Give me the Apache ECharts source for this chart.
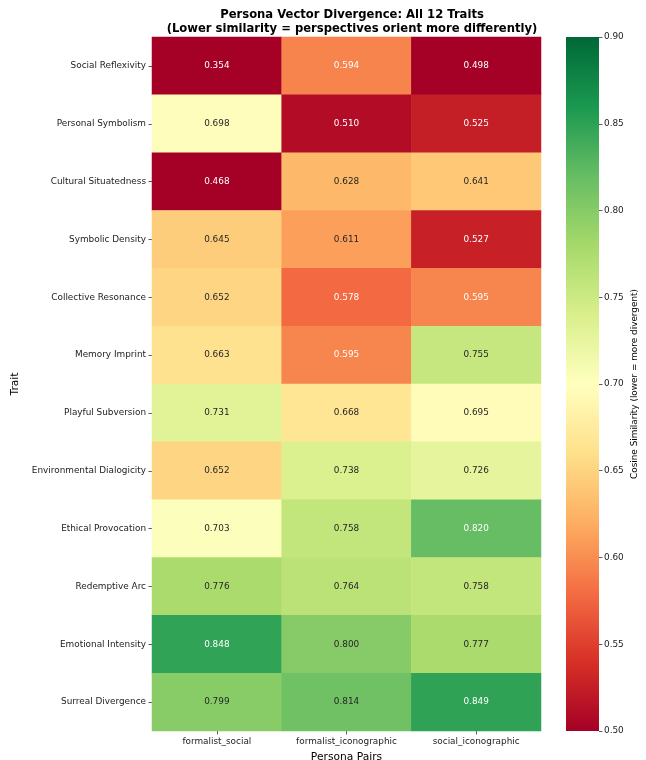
<!DOCTYPE html>
<html>
<head>
<meta charset="utf-8">
<script src="https://cdn.jsdelivr.net/npm/echarts@6/dist/echarts.min.js"></script>
<style>
  html, body { margin: 0; padding: 0; background: #fff; }
  #chart { width: 646px; height: 760px; }
</style>
</head>
<body>
<div id="chart"></div>
<script>
const pairs = ["formalist_social", "formalist_iconographic", "social_iconographic"];
const traits = [
  "Social Reflexivity", "Personal Symbolism", "Cultural Situatedness", "Symbolic Density",
  "Collective Resonance", "Memory Imprint", "Playful Subversion", "Environmental Dialogicity",
  "Ethical Provocation", "Redemptive Arc", "Emotional Intensity", "Surreal Divergence"
];
const formalistSocial = [0.354, 0.698, 0.468, 0.645, 0.652, 0.663, 0.731, 0.652, 0.703, 0.776, 0.848, 0.799];
const formalistIconographic = [0.594, 0.510, 0.628, 0.611, 0.578, 0.595, 0.668, 0.738, 0.758, 0.764, 0.800, 0.814];
const socialIconographic = [0.498, 0.525, 0.641, 0.527, 0.595, 0.755, 0.695, 0.726, 0.820, 0.758, 0.777, 0.849];
const cbarMin = 0.5;
const cbarMax = 0.9;
const cbarStep = 0.05;

const rdYlGn = ["#a50026", "#d73027", "#f46d43", "#fdae61", "#fee08b", "#ffffbf",
  "#d9ef8b", "#a6d96a", "#66bd63", "#1a9850", "#006837"];
const font = "DejaVu Sans";

// layout
const plot = { left: 152, top: 37, width: 389, height: 694 };
const cbar = { left: 566, top: 37, width: 33, height: 694 };

const columns = [formalistSocial, formalistIconographic, socialIconographic];
const cells = [];
columns.forEach((col, x) => {
  col.forEach((v, y) => {
    const dark = v < 0.6 || v > 0.815;
    cells.push({ value: [x, y, v], label: { color: dark ? "#ffffff" : "#262626" } });
  });
});

const tickStyle = { show: true, alignWithLabel: true, length: 3.5, lineStyle: { color: "#333", width: 0.8 } };
const labelStyle = { fontFamily: font, fontSize: 8.9, color: "#222" };

const chart = echarts.init(document.getElementById("chart"));
chart.setOption({
  animation: false,
  title: {
    text: "Persona Vector Divergence: All 12 Traits\n(Lower similarity = perspectives orient more differently)",
    left: 347,
    top: 3,
    textAlign: "center",
    textStyle: { fontFamily: font, fontSize: 11.6, fontWeight: "bold", color: "#000", lineHeight: 14 },
  },
  grid: [
    { ...plot, outerBoundsMode: "none", containLabel: false },
    { ...cbar, outerBoundsMode: "none", containLabel: false },
  ],
  graphic: [
    {
      type: "rect",
      silent: true,
      z: -1,
      shape: { x: cbar.left, y: cbar.top, width: cbar.width, height: cbar.height },
      style: {
        fill: new echarts.graphic.LinearGradient(0, 1, 0, 0,
          rdYlGn.map((c, i) => ({ offset: i / (rdYlGn.length - 1), color: c }))),
      },
    },
  ],
  xAxis: [
    {
      type: "category",
      data: pairs,
      gridIndex: 0,
      position: "bottom",
      axisLine: { show: false },
      axisTick: tickStyle,
      axisLabel: { ...labelStyle, margin: 6, interval: 0, hideOverlap: false },
      splitLine: { show: false },
      name: "Persona Pairs",
      nameLocation: "middle",
      nameGap: 21,
      nameTextStyle: { fontFamily: font, fontSize: 10.7, color: "#000" },
    },
    { type: "value", gridIndex: 1, show: false, min: 0, max: 1 },
  ],
  yAxis: [
    {
      type: "category",
      data: traits,
      gridIndex: 0,
      inverse: true,
      axisLine: { show: false },
      axisTick: tickStyle,
      axisLabel: { ...labelStyle, margin: 6, interval: 0 },
      splitLine: { show: false },
      name: "Trait",
      nameLocation: "middle",
      nameGap: 118,
      nameRotate: 90,
      nameTextStyle: { fontFamily: font, fontSize: 10.7, color: "#000" },
    },
    {
      type: "value",
      gridIndex: 1,
      position: "right",
      min: cbarMin,
      max: cbarMax,
      interval: cbarStep,
      axisLine: { show: false, onZero: false },
      axisTick: { show: true, length: 3.5, lineStyle: { color: "#333", width: 0.8 } },
      axisLabel: { ...labelStyle, margin: 5, formatter: (v) => v.toFixed(2) },
      splitLine: { show: false },
      name: "Cosine Similarity (lower = more divergent)",
      nameLocation: "middle",
      nameGap: 31,
      nameRotate: 90,
      nameTextStyle: { fontFamily: font, fontSize: 8.9, color: "#000" },
    },
  ],
  visualMap: {
    type: "continuous",
    show: false,
    seriesIndex: 0,
    min: cbarMin,
    max: cbarMax,
    inRange: { color: rdYlGn },
  },
  series: [
    {
      type: "heatmap",
      xAxisIndex: 0,
      yAxisIndex: 0,
      data: cells,
      label: {
        show: true,
        fontFamily: font,
        fontSize: 8.9,
        formatter: (p) => p.value[2].toFixed(3),
      },
      itemStyle: { borderWidth: 0 },
      emphasis: { disabled: true },
    },
    { type: "line", xAxisIndex: 1, yAxisIndex: 1, data: [] },
  ],
});
</script>
</body>
</html>
